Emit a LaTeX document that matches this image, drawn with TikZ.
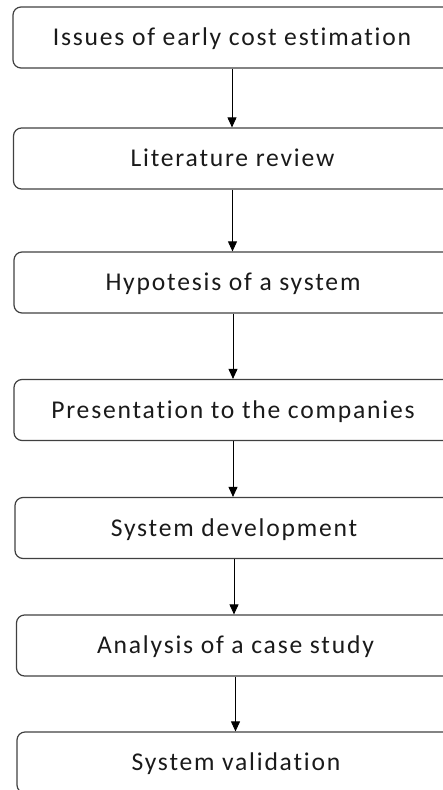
\documentclass[tikz,border=0pt]{standalone}
\usepackage{fontspec}
\setmainfont{Carlito}[Ligatures=NoCommon, LetterSpace=7]
\usetikzlibrary{arrows.meta}
\definecolor{boxline}{HTML}{404040}
\definecolor{ink}{HTML}{1A1A1A}
\begin{document}
\begin{tikzpicture}[x=1pt,y=-1pt,
  stage/.style={draw=boxline, line width=1.2pt, rounded corners=8pt,
    minimum width=438pt, minimum height=61pt, inner sep=0pt,
    text=ink, font=\fontsize{25.6}{30}\selectfont,
    text height=16.3pt, text depth=0pt},
  flow/.style={draw=black, line width=0.9pt,
    -{Triangle[length=10pt,width=9pt]}}]
  \useasboundingbox (0,0) rectangle (443,790);
  \begin{scope}
    \clip (0,0) rectangle (443,790);
    \node[stage] (b1) at (232,37.5)  {Issues of early cost estimation};
    \node[stage] (b2) at (232.5,158.5) {Literature review};
    \node[stage] (b3) at (233,282.5) {Hypotesis of a system};
    \node[stage] (b4) at (233,410)   {Presentation to the companies};
    \node[stage] (b5) at (234,528)   {System development};
    \node[stage] (b6) at (235.5,645.5) {Analysis of a case study};
    \node[stage] (b7) at (236,762.5) {System validation};
  \end{scope}
  \draw[flow] (b1.south) -- (b1.south |- b2.north);
  \draw[flow] (b2.south) -- (b2.south |- b3.north);
  \draw[flow] (b3.south) -- (b3.south |- b4.north);
  \draw[flow] (b4.south) -- (b4.south |- b5.north);
  \draw[flow] (b5.south) -- (b5.south |- b6.north);
  \draw[flow] (b6.south) -- (b6.south |- b7.north);
\end{tikzpicture}
\end{document}
